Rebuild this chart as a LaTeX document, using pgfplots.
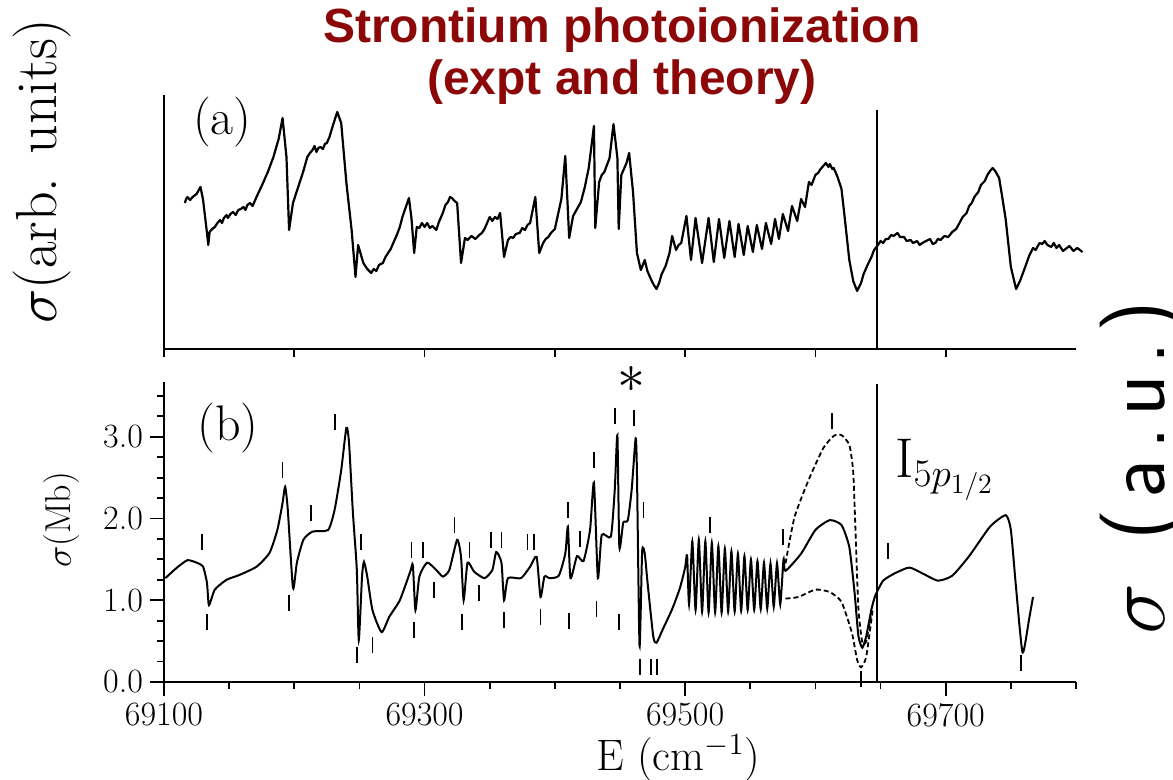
\RequirePackage{fix-cm}
\documentclass[border=0pt]{standalone}
\usepackage{fontspec}
\newfontfamily\titlefont{Liberation Sans}
\usepackage{pgfplots}
\pgfplotsset{compat=1.18}
\definecolor{titlered}{RGB}{140,8,8}

\begin{document}
\begin{tikzpicture}
% (b) theory
\begin{axis}[
  at={(0pt,0pt)}, anchor=south west,
  scale only axis, width=456pt, height=150pt,
  xmin=69100, xmax=69800, ymin=0, ymax=3.67,
  axis lines=left, axis line style={-, line width=1pt},
  scaled x ticks=false, scaled y ticks=false,
  xtick={69100,69300,69500,69700},
  xticklabels={69100,69300,69500,69700},
  minor xtick={69150,69200,69250,69350,69400,69450,69550,69600,69650,69750,69800},
  ytick={0,1,2,3}, yticklabels={0.0,1.0,2.0,3.0},
  minor ytick={0.25,0.5,0.75,1.25,1.5,1.75,2.25,2.5,2.75,3.25,3.5},
  tick align=outside, major tick length=7pt, minor tick length=3.5pt,
  every tick/.style={black, line width=0.9pt},
  tick label style={font=\fontsize{17}{17}\selectfont},
  xlabel={E (cm$^{-1}$)},
  xlabel style={at={(axis description cs:0.564,-0.255)}, anchor=center, font=\fontsize{22}{22}\selectfont},
  ylabel={$\sigma$(Mb)},
  ylabel style={at={(axis description cs:-0.112,0.54)}, anchor=center, font=\fontsize{18}{18}\selectfont},
  clip=false,
]
\addplot[black, line width=1pt, smooth, tension=0.35] coordinates {
(69101,1.27) (69110,1.40) (69118,1.49) (69125,1.46) (69130,1.41) (69133,1.21)
(69134.5,0.94) (69139,1.13) (69148,1.25) (69158,1.31) (69171,1.41) (69181,1.58)
(69187,1.86) (69191,2.19) (69193,2.39) (69195,2.11) (69199,1.15) (69202,1.46)
(69207,1.74) (69214,1.84) (69226,1.86) (69231,2.11) (69236,2.59) (69240,3.11)
(69242,2.93) (69245,2.07) (69248,1.37) (69249.5,0.51) (69252,1.29) (69253.5,1.47)
(69256,1.29) (69260,0.88) (69267,0.61) (69273,0.80) (69281,1.00) (69289,1.35)
(69291,1.43) (69293,0.88) (69296,1.29) (69302,1.46) (69309,1.37) (69314,1.29)
(69319,1.37) (69325,1.74) (69328,1.53) (69330,1.00) (69333,1.46) (69338,1.35)
(69346,1.27) (69352,1.37) (69355,1.59) (69359,1.46) (69361,1.00) (69364,1.27)
(69374,1.27) (69381,1.41) (69386,1.53) (69389,1.04) (69392,1.29) (69396,1.27)
(69403,1.30) (69408,1.57) (69410,1.90) (69412,1.27) (69417,1.54) (69422,1.48)
(69427,1.86) (69430,2.44) (69433,1.27) (69436,1.80) (69443,1.78) (69446,2.36)
(69448,3.02) (69449.5,1.65) (69452.5,1.95) (69456,1.98) (69459,2.36) (69462,2.98)
(69463,2.57) (69465,0.44) (69467,1.60) (69469,1.57) (69471,1.24) (69475.5,0.56)
(69478,0.48) (69483,0.65) (69490,0.89) (69496,1.15) (69500,1.40)
(69501.5,1.55) (69503,0.95) (69505.5,1.72) (69508,0.88) (69510.5,1.74) (69513,0.86)
(69515.5,1.72) (69518,0.85) (69520.5,1.70) (69523,0.85) (69525.5,1.66) (69528,0.85)
(69530.5,1.63) (69533,0.86) (69535.5,1.60) (69538,0.86) (69540.5,1.57) (69543,0.87)
(69545.5,1.54) (69548,0.88) (69550.5,1.50) (69553,0.88) (69555.5,1.48) (69558,0.89)
(69560.5,1.46) (69563,0.90) (69565.5,1.45) (69568,0.92) (69570.5,1.45) (69573,0.95)
(69575.5,1.50) (69577,1.36)
(69589,1.57) (69600,1.86) (69611,1.98) (69620,1.92) (69626,1.65) (69630,1.10)
(69633,0.56) (69636,0.42) (69639,0.56) (69643,0.89) (69646,1.06) (69652,1.24)
(69661,1.33) (69672,1.40) (69682,1.33) (69694,1.24) (69705,1.30) (69718,1.54)
(69734,1.90) (69746,2.04) (69750,1.86) (69754,1.15) (69759,0.36) (69764,0.77)
(69767,1.04)
};
\addplot[black, line width=0.9pt, smooth, tension=0.35, dash pattern=on 2.5pt off 1.5pt] coordinates {
(69577,1.45) (69584,2.02) (69595,2.48) (69606,2.86) (69614,3.01) (69620,3.02)
(69626,2.90) (69629,2.57) (69631,1.74) (69633,0.89) (69636,0.48) (69639,0.50)
(69643,0.85)
};
\addplot[black, line width=0.9pt, smooth, tension=0.35, dash pattern=on 2.5pt off 1.5pt] coordinates {
(69577,1.02) (69587,1.04) (69600,1.13) (69611,1.10) (69620,0.98) (69628,0.60)
(69632,0.27) (69635,0.18) (69639,0.31) (69644,0.89)
};
\addplot[only marks, mark=|, mark size=4pt, mark options={black, line width=0.9pt}] coordinates {
(69129,1.71) (69133,0.73) (69191,2.59) (69196,0.97) (69213,2.07) (69231,3.18)
(69251,1.71) (69248,0.33) (69260,0.45) (69290,1.62) (69292,0.64) (69299,1.62)
(69307,1.13) (69323,1.92) (69329,0.73) (69334.5,1.62) (69342,1.09) (69351,1.74)
(69359,1.74) (69361,0.76) (69379,1.71) (69384,1.71) (69389,0.80) (69410,2.10)
(69411,0.75) (69419.5,1.75) (69430,2.72) (69432,0.89) (69446,3.26) (69449,0.73)
(69461,3.23) (69468,2.10) (69465.5,0.18) (69474,0.18) (69478.6,0.18) (69519,1.92)
(69575,1.77) (69613,3.19) (69635,0.04) (69656,1.60) (69757.5,0.23)
};
\addplot[black, line width=1.1pt] coordinates {(69647,0) (69647,3.64)};
\node[font=\fontsize{25}{25}\selectfont] at (axis description cs:0.070,0.847) {(b)};
\node[anchor=base west, font=\fontsize{28}{28}\selectfont] at (axis description cs:0.794,0.68) {$\mathrm{I}_{5p_{1/2}}$};
\node[font=\fontsize{28}{28}\selectfont] at (axis cs:69459,3.70) {$\ast$};
\node[rotate=90, font=\fontsize{43}{43}\selectfont] at (axis description cs:1.074,0.715) {$\sigma$\enspace{\sffamily\fontspec{Latin Modern Sans}[LetterSpace=12] (a.u.)}};
\end{axis}

% (a) experiment
\begin{axis}[
  at={(0pt,166.5pt)}, anchor=south west,
  scale only axis, width=456pt, height=127pt,
  xmin=69100, xmax=69800, ymin=0, ymax=2.54,
  axis lines=left, axis line style={-, line width=1pt},
  scaled x ticks=false, scaled y ticks=false,
  xtick={69100,69200,69300,69400,69500,69600,69700}, xticklabels={},
  ytick=\empty,
  tick align=outside, major tick length=4pt,
  every tick/.style={black, line width=0.9pt},
  ylabel={$\sigma$(arb. units)},
  ylabel style={at={(axis description cs:-0.134,0.70)}, anchor=center, font=\fontsize{29}{29}\selectfont},
  clip=false,
]
\addplot[black, line width=1.1pt, line join=round] coordinates {
(69116,1.46) (69117,1.50) (69118,1.52) (69120,1.49) (69122,1.52) (69125,1.55)
(69128,1.62) (69130,1.49) (69133,1.16) (69134,1.04) (69135,1.17) (69137,1.20)
(69139,1.22) (69141,1.26) (69143,1.29) (69144.5,1.26) (69146,1.31) (69148,1.34)
(69149,1.31) (69151,1.35) (69153,1.37) (69155,1.34) (69157,1.39) (69159,1.40)
(69161,1.42) (69162.5,1.39) (69164,1.44) (69166,1.46) (69168,1.43) (69171,1.52)
(69176,1.66) (69180,1.78) (69184,1.92) (69188,2.10) (69191,2.31) (69194,1.92)
(69196,1.19) (69199,1.46) (69204,1.66) (69207,1.78) (69210,1.92) (69212,1.96)
(69214,1.99) (69215.5,2.03) (69217,1.97) (69218.5,2.01) (69220,2.02) (69222,2.00)
(69223.5,2.05) (69225,2.06) (69227,2.12) (69230,2.25) (69233,2.37) (69236,2.26)
(69240,1.66) (69244,1.19) (69247,0.72) (69249,1.04) (69253,0.86) (69256,0.80)
(69259,0.76) (69261,0.80) (69263,0.78) (69265,0.84) (69268,0.86) (69270,0.92)
(69272,0.96) (69274,1.00) (69277,1.09) (69279,1.15) (69281,1.22) (69283,1.32)
(69288,1.51) (69290,1.30) (69292,0.96) (69294,1.22) (69296,1.21) (69298,1.26)
(69300,1.22) (69302,1.26) (69304,1.21) (69306,1.23) (69309,1.19) (69311,1.27)
(69314,1.36) (69316,1.44) (69318,1.47) (69319.5,1.52) (69321,1.51) (69323,1.48)
(69325,1.46) (69328,0.86) (69331,1.11) (69333,1.09) (69336,1.13) (69339,1.10)
(69342,1.14) (69344,1.16) (69346,1.20) (69348,1.26) (69350,1.32) (69352,1.28)
(69354,1.32) (69356,1.30) (69358,1.36) (69361,0.92) (69364,1.09) (69366,1.12)
(69368,1.11) (69370,1.15) (69373,1.16) (69375,1.21) (69377,1.19) (69379,1.24)
(69381,1.26) (69385,1.52) (69388,0.96) (69391,1.06) (69393,1.10) (69395,1.12)
(69397,1.16) (69400,1.20) (69405,1.50) (69408,1.93) (69411,1.11) (69414,1.33)
(69417,1.40) (69420,1.47) (69423,1.62) (69426,1.81) (69430,2.23) (69431,1.21)
(69434,1.67) (69436,1.74) (69438,1.77) (69442,1.91) (69445,2.25) (69448,1.91)
(69449,1.20) (69451,1.74) (69453,1.80) (69455,1.86) (69457,1.96) (69460,1.57)
(69463,0.96) (69466,0.79) (69469,0.89) (69471,0.78) (69474,0.69) (69476,0.64)
(69478,0.60) (69480,0.66) (69482,0.75) (69485,0.83) (69488,0.96) (69490,1.13)
(69493,0.99) (69495,1.04) (69497,1.06)
(69501,1.33) (69504.5,0.89) (69508,1.31) (69513,0.86) (69518,1.31) (69522,0.87)
(69526,1.30) (69530,0.91) (69534,1.28) (69538,0.92) (69541,1.25) (69545,0.94)
(69548,1.23) (69552,0.97) (69555,1.24) (69559,1.00) (69562,1.26) (69566,1.05)
(69569,1.30) (69572,1.10) (69575,1.35) (69579,1.18) (69582,1.43) (69586,1.28)
(69589,1.50) (69592,1.42) (69595,1.67) (69597,1.64) (69600,1.74) (69602,1.76)
(69604,1.80) (69606,1.83) (69608,1.86) (69610,1.82) (69611,1.85) (69613,1.80)
(69614,1.81) (69617,1.72) (69620,1.60) (69622,1.37) (69626,0.89) (69629,0.68)
(69632,0.58) (69635,0.66) (69637,0.75) (69640,0.84) (69643,0.92) (69645,0.99)
(69648,1.04) (69650,1.08) (69652,1.06) (69654,1.10) (69656,1.10) (69658,1.14)
(69660,1.13) (69663,1.16) (69665,1.12) (69668,1.12) (69670,1.08) (69673,1.09)
(69675,1.06) (69678,1.08) (69680,1.04) (69682,1.06) (69685,1.08) (69688,1.10)
(69690,1.05) (69692,1.06) (69694,1.10) (69696,1.09) (69699,1.13) (69702,1.12)
(69705,1.17) (69708,1.20) (69711,1.27) (69713,1.32) (69716,1.36) (69718,1.43)
(69720,1.46) (69722,1.52) (69725,1.57) (69727,1.64) (69730,1.68) (69732,1.74)
(69734,1.78) (69736,1.81) (69738,1.78) (69741,1.71) (69743,1.55) (69746,1.30)
(69750,0.82) (69754,0.60) (69757,0.68) (69759,0.75) (69761,0.82) (69764,0.93)
(69767,1.01) (69769,0.99) (69772,1.06) (69774,1.05) (69776,1.08) (69778,1.04)
(69781,1.02) (69783,1.06) (69785,1.01) (69787,1.04) (69790,0.98) (69792,1.00)
(69795,1.03) (69798,0.98) (69801,1.01) (69805,0.97)
};
\addplot[black, line width=1.1pt] coordinates {(69647,0) (69647,2.39)};
\node[font=\fontsize{25}{25}\selectfont] at (axis description cs:0.064,0.894) {(a)};
\node[anchor=base, font=\titlefont\bfseries\fontsize{24}{24}\selectfont, text=titlered] at (axis description cs:0.502,1.205) {Strontium photoionization};
\node[anchor=base, font=\titlefont\bfseries\fontsize{24}{24}\selectfont, text=titlered] at (axis description cs:0.502,1.0) {(expt and theory)};
\end{axis}
\pgfresetboundingbox
\useasboundingbox (-82pt,-49pt) rectangle (504.5pt,341pt);
\end{tikzpicture}
\end{document}
